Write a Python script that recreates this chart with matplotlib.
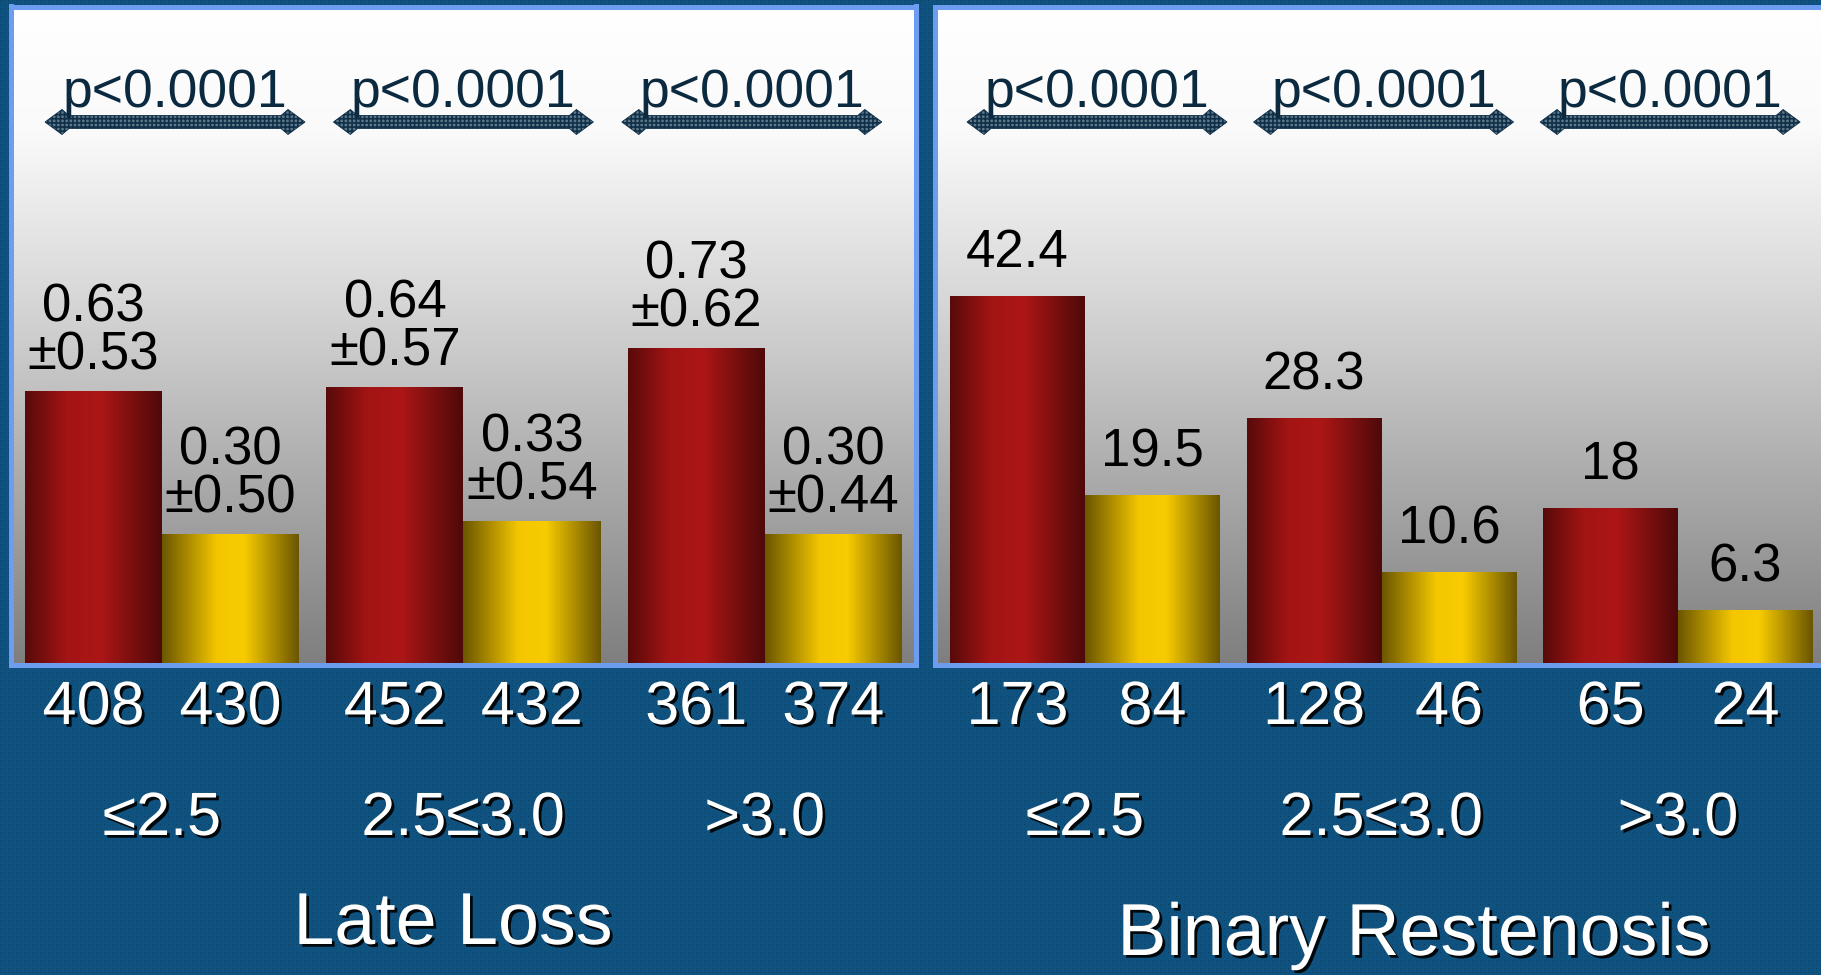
import numpy as np
import matplotlib
matplotlib.use("Agg")
import matplotlib.pyplot as plt
import matplotlib.patheffects as pe
from matplotlib.patches import Polygon

# data
groups = ["≤2.5", "2.5≤3.0", ">3.0"]
p_text = ["p<0.0001", "p<0.0001", "p<0.0001"]

late_loss_ctrl = [0.63, 0.64, 0.73]
late_loss_ctrl_sd = [0.53, 0.57, 0.62]
late_loss_des = [0.30, 0.33, 0.30]
late_loss_des_sd = [0.50, 0.54, 0.44]
late_loss_n_ctrl = [408, 452, 361]
late_loss_n_des = [430, 432, 374]

restenosis_ctrl = [42.4, 28.3, 18]
restenosis_des = [19.5, 10.6, 6.3]
restenosis_n_ctrl = [173, 128, 65]
restenosis_n_des = [84, 46, 24]

plt.rcParams["font.family"] = ["Liberation Sans", "DejaVu Sans"]
plt.rcParams["hatch.linewidth"] = 1.2

W, H = 1821, 975
PT = 0.72  # points per pixel at dpi 100
SPACING = 2.2

RED = ([0, 0.3, 0.55, 1], ["#580a0a", "#a31414", "#ac1616", "#4e0909"])
GOLD = ([0, 0.4, 0.6, 1], ["#6b5600", "#f3c600", "#f8cc00", "#6a5500"])

shadow = [pe.SimplePatchShadow(offset=(2, -2), shadow_rgbFace="black", alpha=0.9),
          pe.Normal()]

fig = plt.figure(figsize=(W / 100, H / 100), dpi=100)
fig.patch.set_facecolor("#10527f")

# faint dotted texture of the slide background
bg = np.ones((H, W, 3)) * np.array([16, 82, 127]) / 255
bg[::4, ::4] *= 0.93
bg[::8, ::8] *= 0.8
fig.figimage(bg, 0, 0, zorder=-10)


def hex_rgb(c):
    return [int(c[i:i + 2], 16) / 255 for i in (1, 3, 5)]


def shade(ax, patch, stops, colors):
    rgb = np.array([hex_rgb(c) for c in colors])
    t = np.linspace(0, 1, 256)
    img = np.stack([np.interp(t, stops, rgb[:, k]) for k in range(3)], axis=-1)
    x0, w, h = patch.get_x(), patch.get_width(), patch.get_height()
    ax.imshow(img[np.newaxis], extent=(x0, x0 + w, 0, h), aspect="auto",
              interpolation="bilinear", zorder=2)


def arrow(ax, xc, ppu, height_px, text):
    # double headed fat arrow, x in data units, y in axes fraction
    yc = (665 - 122) / height_px
    hl = 130 / ppu
    top, back = 17 / ppu, 24 / ppu
    sh, hh = 6.5 / height_px, 12.5 / height_px
    left = xc - hl
    right = xc + hl
    pts = [(left, yc), (left + top, yc + hh), (left + back, yc + sh),
           (right - back, yc + sh), (right - top, yc + hh), (right, yc),
           (right - top, yc - hh), (right - back, yc - sh),
           (left + back, yc - sh), (left + top, yc - hh)]
    poly = Polygon(pts, closed=True, transform=ax.get_xaxis_transform(),
                   facecolor="#5f7888", edgecolor="#10304a", hatch="++++",
                   linewidth=0.6, zorder=3, clip_on=False)
    ax.add_patch(poly)
    ax.text(xc, (665 - 107) / height_px, text, transform=ax.get_xaxis_transform(),
            ha="center", va="baseline", fontsize=38.5, color="#0b2a40", zorder=4)


def panel(rect, x_first, ppu, ymax, arrow_shift, ctrl, des, n_ctrl, n_des, fmt,
          sd_ctrl=None, sd_des=None):
    l, t, r, b = rect
    ax = fig.add_axes([l / W, 1 - b / H, (r - l) / W, (b - t) / H])
    height_px = b - t

    frac = np.linspace(0, 1, 400)
    g = np.interp(frac, [0, 0.19, 0.45, 1], [255, 250, 214, 126]) / 255
    grad = np.repeat(g[:, None, None], 3, axis=2)
    ax.imshow(grad, extent=(0, 1, 0, 1), transform=ax.transAxes, aspect="auto",
              zorder=0)

    centers = np.arange(len(groups)) * SPACING
    bars_c = ax.bar(centers - 0.5, ctrl, width=1, color="none", edgecolor="none")
    bars_d = ax.bar(centers + 0.5, des, width=1, color="none", edgecolor="none")
    for p in bars_c:
        shade(ax, p, *RED)
    for p in bars_d:
        shade(ax, p, *GOLD)

    for bars, vals, sds, ns in ((bars_c, ctrl, sd_ctrl, n_ctrl),
                                (bars_d, des, sd_des, n_des)):
        for i, p in enumerate(bars):
            xc = p.get_x() + p.get_width() / 2
            if sds is not None:
                ax.annotate(f"{vals[i]:.2f}", (xc, vals[i]), xytext=(0, 70 * PT),
                            textcoords="offset points", ha="center", va="baseline",
                            fontsize=38, color="black", zorder=5)
                ax.annotate(f"±{sds[i]:.2f}", (xc, vals[i]), xytext=(0, 22 * PT),
                            textcoords="offset points", ha="center", va="baseline",
                            fontsize=38, color="black", zorder=5)
            else:
                ax.annotate(fmt(vals[i]), (xc, vals[i]), xytext=(0, 29 * PT),
                            textcoords="offset points", ha="center", va="baseline",
                            fontsize=38, color="black", zorder=5)
            ax.annotate(str(ns[i]), (xc, 0), xycoords=ax.get_xaxis_transform(),
                        xytext=(0, -59 * PT), textcoords="offset points",
                        ha="center", va="baseline", fontsize=44, color="white",
                        path_effects=shadow, annotation_clip=False)

    for i, c in enumerate(centers):
        ax.annotate(groups[i], (c, 0), xycoords=ax.get_xaxis_transform(),
                    xytext=(0, -170 * PT), textcoords="offset points",
                    ha="center", va="baseline", fontsize=44, color="white",
                    path_effects=shadow, annotation_clip=False)
        arrow(ax, c + arrow_shift[i] / ppu, ppu, height_px, p_text[i])

    ax.set_xlim((l - x_first) / ppu, (r - x_first) / ppu)
    ax.set_ylim(0, ymax)
    ax.set_xticks([])
    ax.set_yticks([])
    for s in ax.spines.values():
        s.set_color("#6d9df0")
        s.set_linewidth(3.6)
        s.set_zorder(6)
    return ax


panel((10.5, 6.5, 915.5, 665), 162, 137, 658.5 / 434, [13, 0, -13],
      late_loss_ctrl, late_loss_des, late_loss_n_ctrl, late_loss_n_des, None,
      sd_ctrl=late_loss_ctrl_sd, sd_des=late_loss_des_sd)
panel((935.5, 6.5, 1830, 665), 1085, 134.8, 658.5 / 8.7, [12, 2, -8],
      restenosis_ctrl, restenosis_des, restenosis_n_ctrl, restenosis_n_des,
      lambda v: str(v))

fig.text(453 / W, 1 - 944 / H, "Late Loss", ha="center", va="baseline",
         fontsize=53, color="white", path_effects=shadow)
fig.text(1414 / W, 1 - 955 / H, "Binary Restenosis", ha="center", va="baseline",
         fontsize=53, color="white", path_effects=shadow)

fig.savefig("out.png", dpi=100, facecolor=fig.get_facecolor())
